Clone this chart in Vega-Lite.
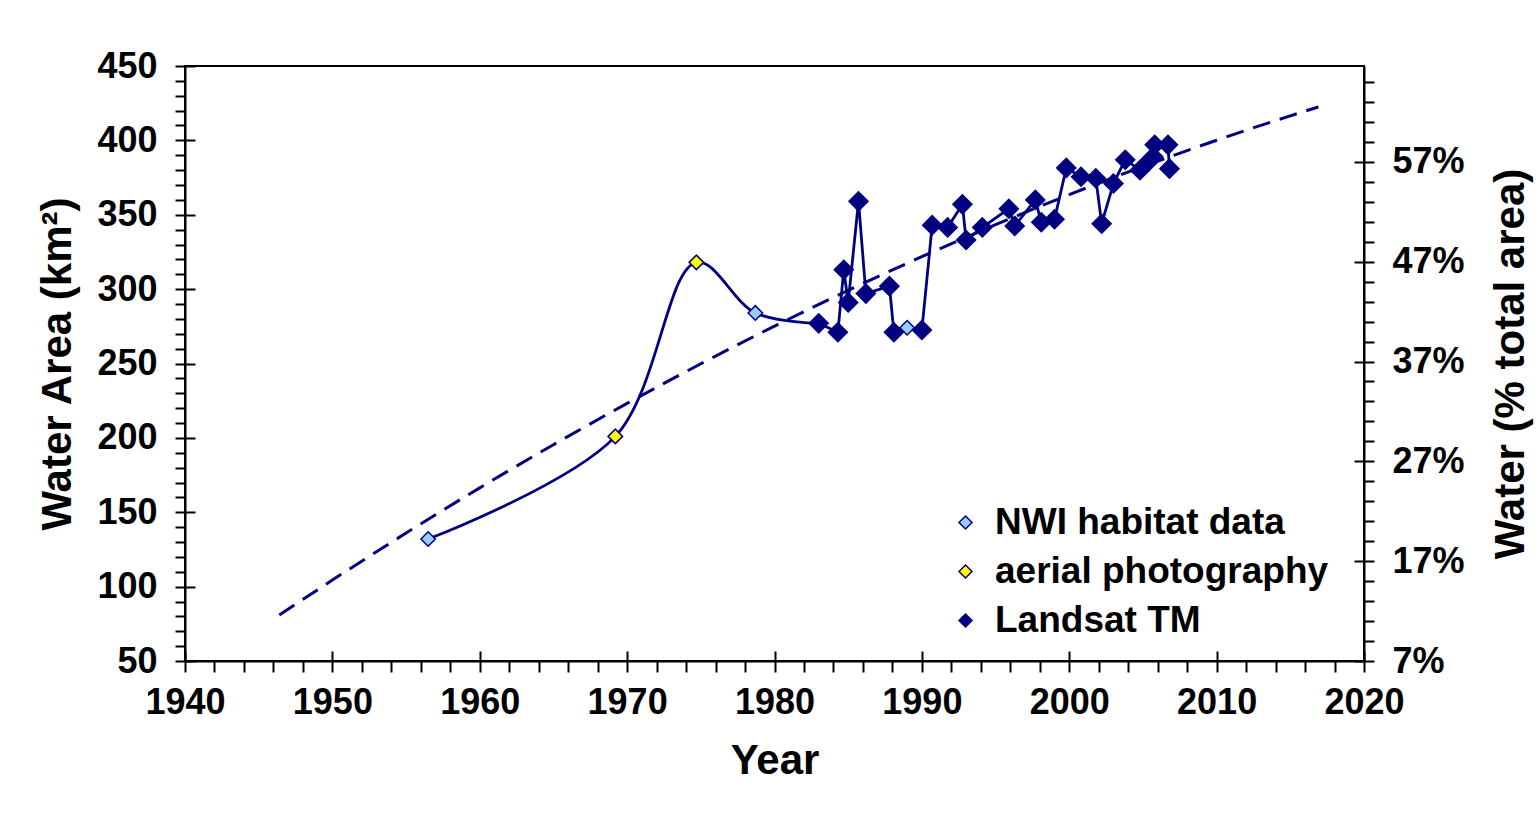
{
  "$schema": "https://vega.github.io/schema/vega-lite/v6.json",
  "width": 1179,
  "height": 595,
  "padding": {"left": 36, "top": 48, "right": 5, "bottom": 5},
  "background": "white",
  "config": {
    "font": "Liberation Sans",
    "view": {"stroke": "black", "strokeWidth": 2},
    "axis": {
      "domainColor": "black", "domainWidth": 2,
      "tickColor": "black", "tickWidth": 2,
      "labelFont": "Liberation Sans", "labelFontSize": 36, "labelFontWeight": "bold", "labelColor": "black",
      "titleFont": "Liberation Sans", "titleFontSize": 42, "titleFontWeight": "bold", "titleColor": "black",
      "grid": false, "labelOverlap": false, "labelFlush": false
    }
  },
  "datasets": {
    "obs": [
      {"year": 1956.5, "area": 132, "source": "NWI habitat data"},
      {"year": 1969.2, "area": 201, "source": "aerial photography"},
      {"year": 1974.7, "area": 318, "source": "aerial photography"},
      {"year": 1978.7, "area": 284, "source": "NWI habitat data"},
      {"year": 1983.0, "area": 277, "source": "Landsat TM"},
      {"year": 1984.3, "area": 271, "source": "Landsat TM"},
      {"year": 1984.7, "area": 313, "source": "Landsat TM"},
      {"year": 1985.0, "area": 291, "source": "Landsat TM"},
      {"year": 1985.7, "area": 359, "source": "Landsat TM"},
      {"year": 1986.2, "area": 297, "source": "Landsat TM"},
      {"year": 1987.8, "area": 302, "source": "Landsat TM"},
      {"year": 1988.1, "area": 271, "source": "Landsat TM"},
      {"year": 1989.0, "area": 274, "source": "NWI habitat data"},
      {"year": 1990.0, "area": 272.5, "source": "Landsat TM"},
      {"year": 1990.7, "area": 343, "source": "Landsat TM"},
      {"year": 1991.75, "area": 341.5, "source": "Landsat TM"},
      {"year": 1992.75, "area": 357, "source": "Landsat TM"},
      {"year": 1993.0, "area": 333, "source": "Landsat TM"},
      {"year": 1994.1, "area": 341.5, "source": "Landsat TM"},
      {"year": 1995.9, "area": 354, "source": "Landsat TM"},
      {"year": 1996.3, "area": 342.5, "source": "Landsat TM"},
      {"year": 1997.7, "area": 360, "source": "Landsat TM"},
      {"year": 1998.1, "area": 345, "source": "Landsat TM"},
      {"year": 1999.0, "area": 347, "source": "Landsat TM"},
      {"year": 1999.8, "area": 381.5, "source": "Landsat TM"},
      {"year": 2000.8, "area": 375.5, "source": "Landsat TM"},
      {"year": 2001.8, "area": 374.5, "source": "Landsat TM"},
      {"year": 2002.2, "area": 344, "source": "Landsat TM"},
      {"year": 2003.0, "area": 371, "source": "Landsat TM"},
      {"year": 2003.8, "area": 387, "source": "Landsat TM"},
      {"year": 2004.8, "area": 380, "source": "Landsat TM"},
      {"year": 2005.3, "area": 385, "source": "Landsat TM"},
      {"year": 2005.7, "area": 389, "source": "Landsat TM"},
      {"year": 2005.8, "area": 397, "source": "Landsat TM"},
      {"year": 2006.7, "area": 397, "source": "Landsat TM"},
      {"year": 2006.8, "area": 381, "source": "Landsat TM"}
    ],
    "trend": [
      {"year": 1946.4, "area": 80.9},
      {"year": 1950, "area": 104.4},
      {"year": 1955, "area": 136.0},
      {"year": 1960, "area": 166.4},
      {"year": 1965, "area": 195.4},
      {"year": 1970, "area": 223.2},
      {"year": 1975, "area": 249.8},
      {"year": 1980, "area": 275.1},
      {"year": 1985, "area": 299.1},
      {"year": 1990, "area": 321.8},
      {"year": 1995, "area": 343.3},
      {"year": 2000, "area": 363.5},
      {"year": 2005, "area": 382.4},
      {"year": 2010, "area": 400.1},
      {"year": 2015, "area": 416.5},
      {"year": 2016.9, "area": 422.4}
    ]
  },
  "layer": [
    {
      "data": {"name": "trend"},
      "mark": {"type": "line", "color": "#000080", "strokeWidth": 3, "strokeDash": [18, 10], "interpolate": "monotone"},
      "encoding": {
        "x": {
          "field": "year", "type": "quantitative",
          "scale": {"domain": [1940, 2020], "nice": false, "zero": false},
          "axis": {
            "orient": "bottom",
            "values": [1940,1942,1944,1946,1948,1950,1952,1954,1956,1958,1960,1962,1964,1966,1968,1970,1972,1974,1976,1978,1980,1982,1984,1986,1988,1990,1992,1994,1996,1998,2000,2002,2004,2006,2008,2010,2012,2014,2016,2018,2020],
            "format": "d",
            "labelExpr": "datum.value % 10 === 0 ? datum.label : ''",
            "tickSize": 11, "labelPadding": 13,
            "title": "Year", "titlePadding": 20
          }
        },
        "y": {
          "field": "area", "type": "quantitative",
          "scale": {"domain": [50, 450], "nice": false, "zero": false},
          "axis": {
            "orient": "left",
            "values": [50,60,70,80,90,100,110,120,130,140,150,160,170,180,190,200,210,220,230,240,250,260,270,280,290,300,310,320,330,340,350,360,370,380,390,400,410,420,430,440,450],
            "labelExpr": "datum.value % 50 === 0 ? datum.label : ''",
            "tickSize": 10, "labelPadding": 18,
            "title": "Water Area (km²)", "titlePadding": 17
          }
        }
      }
    },
    {
      "data": {"name": "obs"},
      "transform": [{"filter": "datum.year <= 1983.01"}],
      "mark": {"type": "line", "color": "#000080", "strokeWidth": 2.8, "interpolate": "catmull-rom"},
      "encoding": {
        "x": {"field": "year", "type": "quantitative", "scale": {"domain": [1940, 2020], "nice": false, "zero": false}, "axis": null},
        "y": {"field": "area", "type": "quantitative", "scale": {"domain": [50, 450], "nice": false, "zero": false}, "axis": null}
      }
    },
    {
      "data": {"name": "obs"},
      "transform": [{"filter": "datum.year >= 1982.99"}],
      "mark": {"type": "line", "color": "#000080", "strokeWidth": 2.8},
      "encoding": {
        "x": {"field": "year", "type": "quantitative", "scale": {"domain": [1940, 2020], "nice": false, "zero": false}, "axis": null},
        "y": {"field": "area", "type": "quantitative", "scale": {"domain": [50, 450], "nice": false, "zero": false}, "axis": null}
      }
    },
    {
      "data": {"name": "obs"},
      "mark": {"type": "point", "shape": "diamond", "filled": true, "stroke": "#000080", "strokeWidth": 1.5, "opacity": 1},
      "encoding": {
        "x": {"field": "year", "type": "quantitative", "scale": {"domain": [1940, 2020], "nice": false, "zero": false}, "axis": null},
        "y": {"field": "area", "type": "quantitative", "scale": {"domain": [50, 450], "nice": false, "zero": false}, "axis": null},
        "fill": {
          "field": "source", "type": "nominal",
          "scale": {"domain": ["NWI habitat data", "aerial photography", "Landsat TM"], "range": ["#99ccff", "#ffff00", "#000080"]},
          "legend": {
            "title": null, "orient": "none", "legendX": 762, "legendY": 438,
            "labelFont": "Liberation Sans", "labelFontSize": 37, "labelFontWeight": "bold", "labelColor": "black", "labelLimit": 0,
            "symbolType": "diamond", "symbolSize": 170, "symbolStrokeColor": "#000080", "symbolStrokeWidth": 1.5,
            "rowPadding": 11, "labelOffset": 11
          }
        },
        "size": {"condition": {"test": "datum.source === 'Landsat TM'", "value": 360}, "value": 210}
      }
    },
    {
      "data": {"name": "obs"},
      "mark": {"type": "point", "opacity": 0},
      "encoding": {
        "x": {
          "field": "year", "type": "quantitative",
          "scale": {"domain": [1940, 2020], "nice": false, "zero": false},
          "axis": {"orient": "bottom", "values": [1940,1950,1960,1970,1980,1990,2000,2010,2020], "tickSize": -10, "labels": false, "domain": false, "title": null}
        },
        "y": {
          "field": "area", "type": "quantitative",
          "scale": {"domain": [50, 450], "nice": false, "zero": false},
          "axis": {"orient": "left", "values": [50,100,150,200,250,300,350,400,450], "tickSize": -10, "labels": false, "domain": false, "title": null}
        }
      }
    },
    {
      "data": {"name": "obs"},
      "mark": {"type": "point", "opacity": 0},
      "encoding": {
        "y": {
          "datum": 7, "type": "quantitative",
          "scale": {"domain": [7, 66.6], "nice": false, "zero": false},
          "axis": {
            "orient": "right",
            "values": [7,9,11,13,15,17,19,21,23,25,27,29,31,33,35,37,39,41,43,45,47,49,51,53,55,57,59,61,63,65],
            "labelExpr": "(datum.value - 7) % 10 === 0 ? datum.value + '%' : ''",
            "tickSize": 10, "labelPadding": 18,
            "title": "Water (% total area)", "titleAngle": 270, "titleBaseline": "top", "titlePadding": 26
          }
        }
      }
    },
    {
      "data": {"name": "obs"},
      "mark": {"type": "point", "opacity": 0},
      "encoding": {
        "y": {
          "datum": 7, "type": "quantitative",
          "scale": {"domain": [7, 66.6], "nice": false, "zero": false},
          "axis": {"orient": "right", "values": [7,17,27,37,47,57], "tickSize": -10, "labels": false, "domain": false, "title": null}
        }
      }
    }
  ],
  "resolve": {"scale": {"y": "independent"}, "axis": {"x": "independent", "y": "independent"}}
}
